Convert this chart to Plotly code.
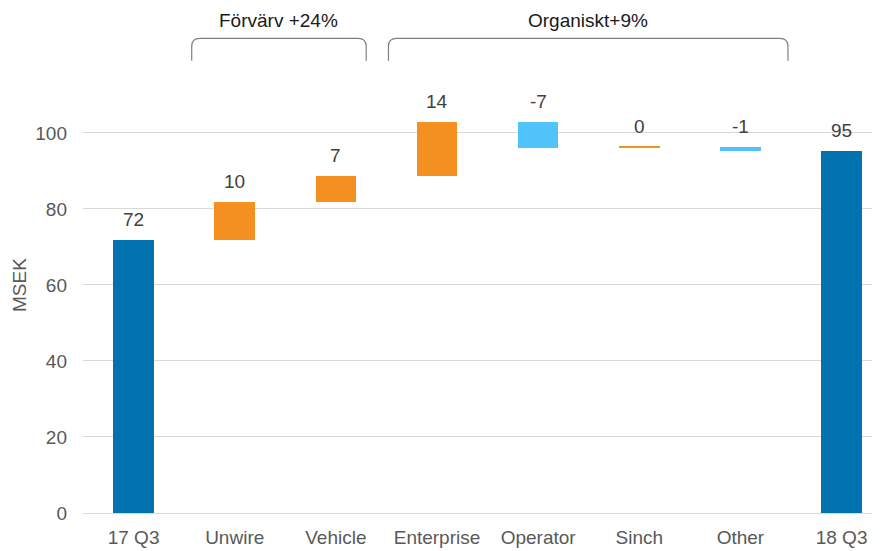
import plotly.graph_objects as go
import numpy as np

categories = ["17 Q3", "Unwire", "Vehicle", "Enterprise", "Operator", "Sinch", "Other", "18 Q3"]
start_value = 71.7
deltas = [10.1, 6.9, 14.2, -6.85, 0.3, -1.0]
labels = ["72", "10", "7", "14", "-7", "0", "-1", "95"]

groups = [
    {"text": "Förvärv +24%", "x0": 0.575, "x1": 2.30},
    {"text": "Organiskt+9%", "x0": 2.52, "x1": 6.47},
]

C_TOTAL = "#0272AF"
C_UP = "#F39021"
C_DOWN = "#50C4FA"
FONT = "Liberation Sans, Arial"

cum = np.cumsum([start_value] + deltas)
end_value = float(cum[-1])
bases = [0.0] + list(cum[:-1]) + [0.0]
heights = [start_value] + deltas + [end_value]
colors = [C_TOTAL] + [C_UP if d >= 0 else C_DOWN for d in deltas] + [C_TOTAL]
tops = [max(b, b + h) for b, h in zip(bases, heights)]

x_idx = list(range(len(categories)))

fig = go.Figure()
fig.add_trace(go.Bar(
    x=x_idx, y=heights, base=bases, width=0.4,
    marker=dict(color=colors, line=dict(width=0)),
    hoverinfo="skip", showlegend=False,
))

for xi, t, lab in zip(x_idx, tops, labels):
    fig.add_annotation(x=xi, y=t, text=lab, showarrow=False, yanchor="bottom",
                       yshift=8, font=dict(size=19, color="#404040", family=FONT))

# brackets
ry = 0.019
rx = 0.08
yb, yt = 1.077, 1.130
for g in groups:
    x0, x1 = g["x0"], g["x1"]
    path = (f"M {x0},{yb} L {x0},{yt-ry} Q {x0},{yt} {x0+rx},{yt} "
            f"L {x1-rx},{yt} Q {x1},{yt} {x1},{yt-ry} L {x1},{yb}")
    fig.add_shape(type="path", path=path, xref="x", yref="paper",
                  line=dict(color="#7F7F7F", width=1.2))
    fig.add_annotation(x=(x0 + x1) / 2, xref="x", y=yt, yref="paper", yanchor="bottom",
                       yshift=5, text=g["text"], showarrow=False,
                       font=dict(size=19, color="#1A1A1A", family=FONT))

fig.add_annotation(x=-0.079, xref="paper", y=0.543, yref="paper", text="MSEK",
                   textangle=-90, showarrow=False, xanchor="center", yanchor="middle",
                   font=dict(size=19, color="#595959", family=FONT))

fig.update_layout(
    width=872, height=543,
    margin=dict(l=75, r=0, t=85, b=38),
    plot_bgcolor="white", paper_bgcolor="white",
    font=dict(family=FONT, color="#595959"),
    xaxis=dict(tickmode="array", tickvals=x_idx, ticktext=categories,
               range=[-0.5, 7.38], showgrid=False, zeroline=False, showline=False,
               ticks="", tickfont=dict(size=19, color="#595959"), ticklabelstandoff=11,
               automargin=False),
    yaxis=dict(range=[0, 110.5], tickvals=[0, 20, 40, 60, 80, 100],
               showgrid=True, gridcolor="#D9D9D9", gridwidth=1.3,
               zeroline=True, zerolinecolor="#D9D9D9", zerolinewidth=1.3,
               showline=False, ticks="", tickfont=dict(size=19, color="#595959"),
               ticklabelstandoff=15, automargin=False),
    bargap=0,
)

fig.write_html("out.html")
